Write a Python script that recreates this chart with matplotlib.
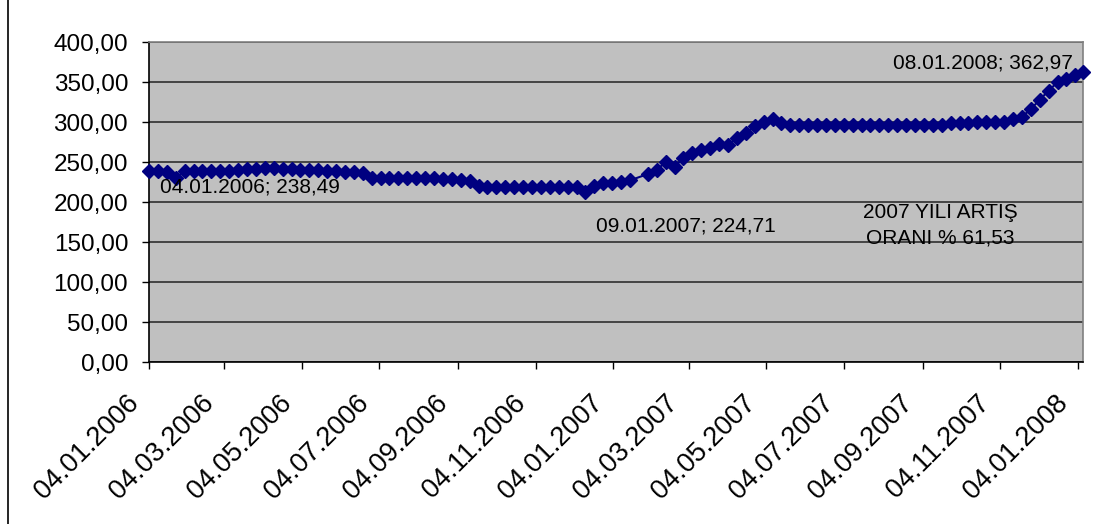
import numpy as np
import pandas as pd
import matplotlib
matplotlib.use("Agg")
import matplotlib.pyplot as plt
import matplotlib.transforms as mtransforms
from matplotlib.ticker import FuncFormatter, MultipleLocator
from matplotlib.lines import Line2D

plt.rcParams['font.family'] = ['Liberation Sans', 'DejaVu Sans']

# weekly values (one week, index 55, is missing in the source)
values = [
    238.49, 238.5, 238.0, 230.0, 238.5, 238.5, 238.5, 239.0, 239.0, 239.0,
    239.5, 241.0, 241.5, 242.0, 242.0, 241.5, 241.5, 240.0, 239.5, 239.5,
    239.0, 239.0, 238.0, 237.5, 236.0, 230.0, 229.5, 229.5, 229.5, 229.5,
    229.5, 229.5, 229.5, 229.0, 229.0, 227.5, 226.0, 220.0, 219.0, 219.0,
    219.0, 219.0, 219.0, 219.0, 219.0, 219.0, 219.0, 219.0, 219.0, 212.0,
    220.0, 224.0, 224.0, 224.71, 227.0,
    235.0, 240.0, 250.0, 244.0, 255.0, 261.0, 265.0, 267.0, 273.0, 271.0,
    280.0, 286.0, 295.0, 300.0, 303.5, 299.0,
    296.5, 296.0, 296.0, 296.5, 296.0, 296.0, 296.0, 296.5, 296.0, 296.0,
    296.0, 296.0, 296.5, 296.0, 296.0, 296.5, 296.0, 296.5,
    299.0, 299.0, 299.0, 299.5, 299.5, 299.5, 300.0, 303.5, 306.5, 316.0,
    328.0, 339.0, 350.0, 354.0, 358.5, 362.97,
]
weeks = pd.date_range("2006-01-04", periods=105, freq="7D").delete(55)
dates = list(weeks) + [pd.Timestamp("2008-01-08")]

tick_labels = ["04.01.2006", "04.03.2006", "04.05.2006", "04.07.2006",
               "04.09.2006", "04.11.2006", "04.01.2007", "04.03.2007",
               "04.05.2007", "04.07.2007", "04.09.2007", "04.11.2007",
               "04.01.2008"]
tick_dates = pd.to_datetime(tick_labels, format="%d.%m.%Y")

notes = ["04.01.2006; 238,49", "09.01.2007; 224,71", "08.01.2008; 362,97"]
rate_note = "2007 YILI ARTIŞ\nORANI % 61,53"

W, H = 1095, 524
fig = plt.figure(figsize=(W / 100, H / 100), dpi=100)
ax = fig.add_axes([149 / W, 1 - 362 / H, (1083 - 149) / W, (362 - 42) / H])
ax.set_facecolor("#C0C0C0")

ax.plot(dates, values, color="#000080", lw=1.5, marker="D", ms=7.5,
        mec="#000080", mfc="#000080", clip_on=False, zorder=3)

ax.set_xlim(pd.Timestamp("2006-01-04"), pd.Timestamp("2008-01-08"))
ax.set_ylim(0, 400)
ax.yaxis.set_major_locator(MultipleLocator(50))
ax.yaxis.set_major_formatter(FuncFormatter(lambda v, p: f"{v:.2f}".replace(".", ",")))
ax.set_xticks(tick_dates)
ax.set_xticklabels(tick_labels, rotation=45, ha="right", va="center",
                   rotation_mode="anchor", fontsize=19.5)
ax.grid(True, axis="y", color="#3a3a3a", lw=1.3)
ax.set_axisbelow(True)

ax.tick_params(axis="both", direction="out", length=5, width=1, color="black")
ax.tick_params(axis="y", labelsize=17.5, pad=10)
ax.tick_params(axis="x", pad=22)
shift = mtransforms.ScaledTranslation(-14 / 100, 0, fig.dpi_scale_trans)
for lab in ax.get_xticklabels():
    lab.set_transform(lab.get_transform() + shift)
for s in ["left", "bottom"]:
    ax.spines[s].set_color("black")
    ax.spines[s].set_linewidth(1.2)
for s in ["right", "top"]:
    ax.spines[s].set_color("#808080")
    ax.spines[s].set_linewidth(1.2)

fig.text(160 / W, 1 - 187 / H, notes[0], fontsize=15, ha="left", va="center")
fig.text(596 / W, 1 - 226 / H, notes[1], fontsize=15, ha="left", va="center")
fig.text(1073 / W, 1 - 63 / H, notes[2], fontsize=15, ha="right", va="center")
fig.text(940 / W, 1 - 225 / H, rate_note, fontsize=15, ha="center",
         va="center", linespacing=1.45)

fig.add_artist(Line2D([7.5 / W, 7.5 / W], [0, 1], color="black", lw=1.2))

fig.savefig("out.png", dpi=100)
